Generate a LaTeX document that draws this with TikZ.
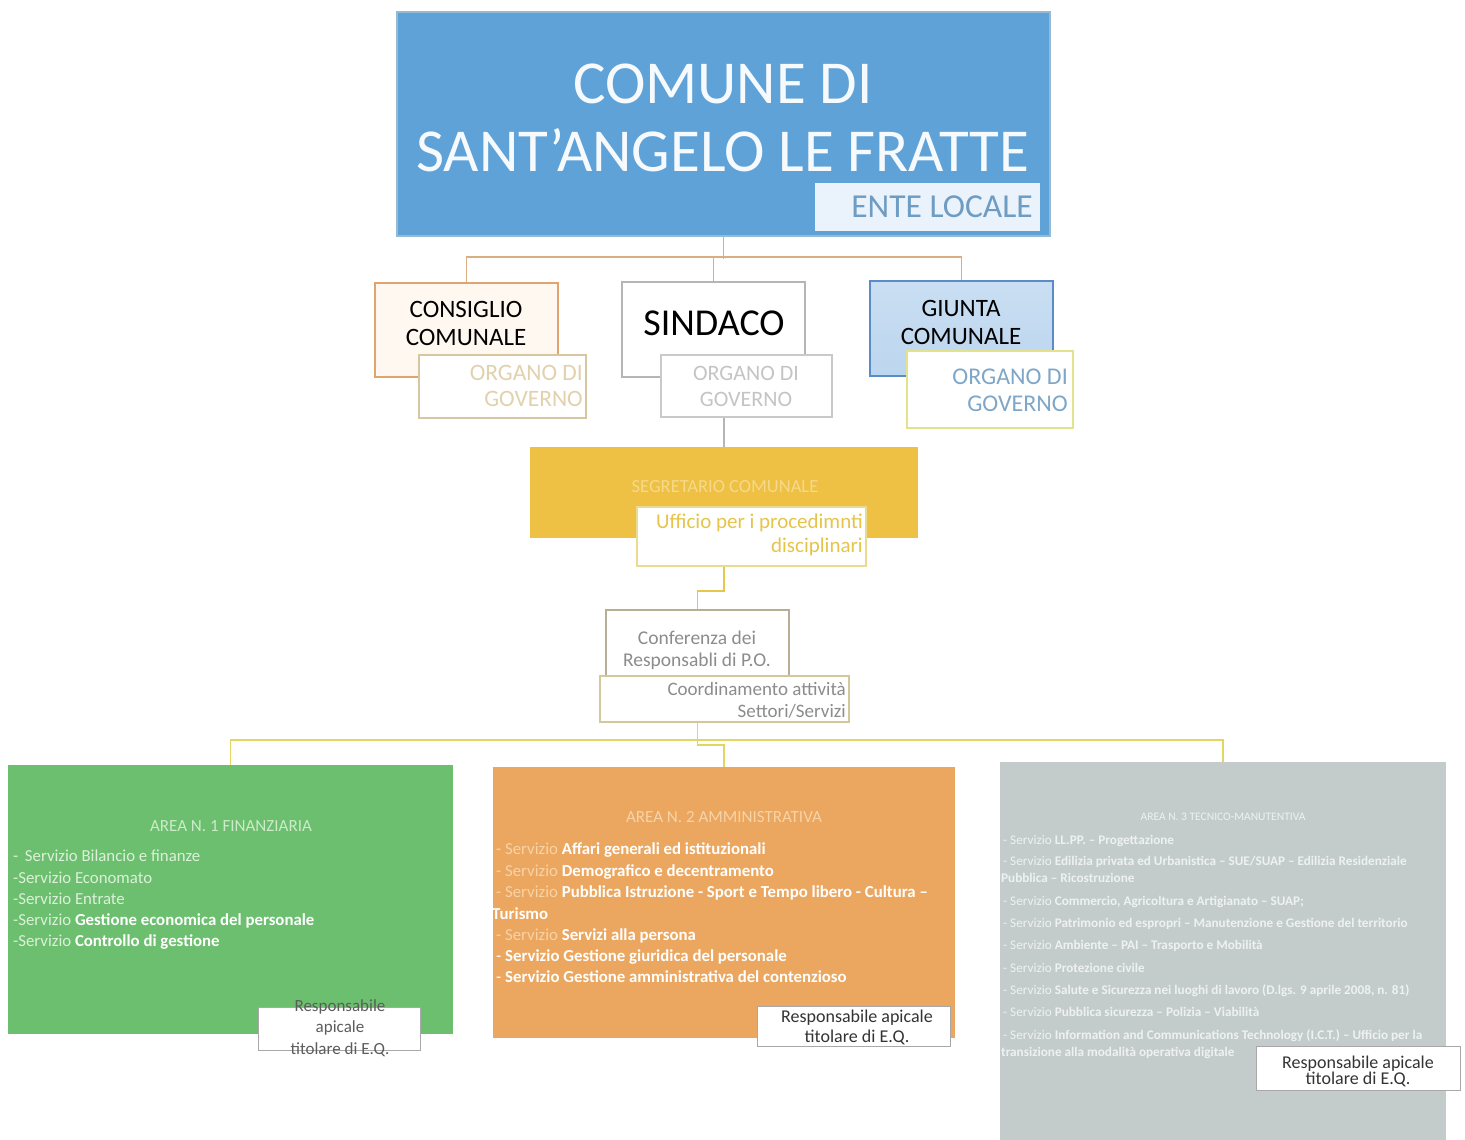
\documentclass[tikz,border=0pt]{standalone}
\usepackage{fontspec}
\setmainfont{Carlito}
\definecolor{topblue}{HTML}{5FA2D7}
\definecolor{entefill}{HTML}{EAF3FB}
\definecolor{entetext}{HTML}{6E9CC2}
\definecolor{consfill}{HTML}{FFF8F0}
\definecolor{consborder}{HTML}{E0A56E}
\definecolor{consorgb}{HTML}{D6C7A0}
\definecolor{consorgt}{HTML}{E1D2AD}
\definecolor{sindborder}{HTML}{B5B5B5}
\definecolor{sindorgb}{HTML}{C9C9C9}
\definecolor{sindorgt}{HTML}{C4C4C4}
\definecolor{giunfill}{HTML}{BCD6EF}
\definecolor{giunborder}{HTML}{5A8CC8}
\definecolor{giunorgb}{HTML}{E2E38C}
\definecolor{giunorgt}{HTML}{7EA6C8}
\definecolor{topconn}{HTML}{D9AE82}
\definecolor{segrfill}{HTML}{EEC043}
\definecolor{segrtext}{HTML}{F6D98A}
\definecolor{uffborder}{HTML}{E9DC90}
\definecolor{ufftext}{HTML}{E6C44A}
\definecolor{goldconn}{HTML}{E8C64C}
\definecolor{confborder}{HTML}{B8AE95}
\definecolor{conftext}{HTML}{8C8C8C}
\definecolor{coordborder}{HTML}{D3C79C}
\definecolor{lowconn}{HTML}{E2D660}
\definecolor{areagreen}{HTML}{6BBF6E}
\definecolor{greentitle}{HTML}{CDEBC9}
\definecolor{greensoft}{HTML}{DDF1DA}
\definecolor{areaorange}{HTML}{EBA75F}
\definecolor{orangetitle}{HTML}{F7D3A8}
\definecolor{orangesoft}{HTML}{F8D3A6}
\definecolor{areagrey}{HTML}{C4CCCB}
\definecolor{greytext}{HTML}{EEF1F1}
\definecolor{respborder}{HTML}{A8A8A8}
\definecolor{resptext}{HTML}{333333}
\begin{document}
\begin{tikzpicture}[x=1pt,y=-1pt,
  box/.style={draw, line width=1.6pt, inner sep=0pt},
  txt/.style={inner sep=0pt, align=center},
  conn/.style={line width=1.6pt},
  gitem/.style={inner sep=0pt, anchor=base west, text=white, font=\fontsize{16.8}{21}\selectfont},
  oitem/.style={inner sep=0pt, anchor=base west, text=white, font=\fontsize{16.8}{21}\selectfont},
  ritem/.style={inner sep=0pt, anchor=base west, text=greytext, font=\fontsize{13.2}{17}\selectfont},
  resp/.style={draw=respborder, line width=1pt, fill=white, inner sep=0pt}
]
\useasboundingbox (0,0) rectangle (1465,1140);

% ---------- top box ----------
\node[box, draw=topblue!85!black!60, fill=topblue, minimum width=653, minimum height=224] (top) at (723.5,124) {};
\node[txt, text=white!95!topblue, font=\fontsize{61}{68}\selectfont] (title) at (723,118) {COMUNE DI\\SANT'ANGELO LE FRATTE};
\node[inner sep=0pt, fill=entefill, minimum width=225, minimum height=48] (ente) at (927.5,207) {};
\node[inner sep=0pt, anchor=east, text=entetext, font=\fontsize{33.5}{36}\selectfont] (entet) at (1033,207) {ENTE LOCALE};

% ---------- governing bodies ----------
\node[box, draw=consborder, fill=consfill, minimum width=183, minimum height=94] (cons) at (466.5,330) {};
\node[txt, font=\fontsize{25}{28}\selectfont] (const) at (466,323) {CONSIGLIO\\COMUNALE};
\node[box, draw=consorgb, fill=white, line width=1.4pt, minimum width=167, minimum height=63] (corg) at (502.5,386.5) {};
\node[txt, align=right, anchor=east, text=consorgt, font=\fontsize{23.5}{26}\selectfont] (corgt) at (583,386) {ORGANO DI\\GOVERNO};

\node[box, draw=sindborder, fill=white, line width=1.4pt, minimum width=183, minimum height=95] (sind) at (713.5,329.5) {};
\node[txt, font=\fontsize{38}{40}\selectfont] (sindt) at (714,323) {SINDACO};
\node[box, draw=sindorgb, fill=white, line width=1.4pt, minimum width=171, minimum height=62] (sorg) at (746.5,386) {};
\node[txt, text=sindorgt, font=\fontsize{22}{26}\selectfont] (sorgt) at (746,386) {ORGANO DI\\GOVERNO};

\node[box, draw=giunborder, top color=giunfill!80!white, bottom color=giunfill, minimum width=183, minimum height=95] (giun) at (961.5,328.5) {};
\node[txt, font=\fontsize{25}{28}\selectfont] (giunt) at (961,322) {GIUNTA\\COMUNALE};
\node[box, draw=giunorgb, fill=white, line width=1.4pt, minimum width=166, minimum height=77] (gorg) at (990,389.5) {};
\node[txt, align=right, anchor=east, text=giunorgt, font=\fontsize{24}{27}\selectfont] (gorgt) at (1068,390) {ORGANO DI\\GOVERNO};

% connectors top
\draw[conn, topconn] (top.south) -- ++(0,22);
\draw[conn, topconn] (cons.north) -- ++(0,-25) -| (giun.north);
\draw[conn, topconn] (sind.north) -- ++(0,-25);

% ---------- secretary ----------
\node[inner sep=0pt, fill=segrfill, minimum width=388, minimum height=91] (segr) at (724,492.5) {};
\node[txt, text=segrtext, font=\fontsize{18.5}{20}\selectfont] (segrt) at (725,487) {SEGRETARIO COMUNALE};
\node[box, draw=uffborder, fill=white, line width=1.4pt, minimum width=229, minimum height=59] (uff) at (751.5,536.5) {};
\node[txt, align=right, anchor=east, text=ufftext, font=\fontsize{21}{24}\selectfont] (ufft) at (863,535) {Ufficio per i procedimnti\\disciplinari};
\draw[conn, sindborder] (sorg.south -| segr.north) -- (segr.north);

% ---------- conference ----------
\node[box, draw=confborder, fill=white, line width=1.4pt, minimum width=183, minimum height=66] (conf) at (697.5,643) {};
\node[txt, text=conftext, font=\fontsize{19.5}{22}\selectfont] (conft) at (697,650) {Conferenza dei\\Responsabli di P.O.};
\node[box, draw=coordborder, fill=white, line width=1.4pt, minimum width=249, minimum height=46] (coord) at (724.5,699) {};
\node[txt, align=right, anchor=east, text=conftext, font=\fontsize{19}{22}\selectfont] (coordt) at (846,700) {Coordinamento attività\\Settori/Servizi};
\draw[conn, goldconn] (uff.south -| segr.north) -- ++(0,24) -| (conf.north);

% ---------- areas ----------
\node[inner sep=0pt, fill=areagreen, minimum width=445, minimum height=269] (green) at (230.5,899.5) {};
\node[inner sep=0pt, fill=areaorange, minimum width=462, minimum height=271] (orange) at (724,902.5) {};
\node[inner sep=0pt, fill=areagrey, minimum width=446, minimum height=380] (grey) at (1223,952) {};

\draw[conn, lowconn] (green.north) -- ++(0,-25) -| (grey.north);
\draw[conn, lowconn] (coord.south -| conf.north) |- ([yshift=22pt]orange.north) -- (orange.north);

% green content
\node[txt, text=greentitle, font=\fontsize{17}{20}\selectfont] (gtitle) at (231,826) {AREA N. 1 FINANZIARIA};
\node[gitem] (g1) at (13,861) {\textcolor{greensoft}{- \,Servizio Bilancio e finanze}};
\node[gitem] (g2) at (13,883) {\textcolor{greensoft}{-Servizio Economato}};
\node[gitem] (g3) at (13,904) {\textcolor{greensoft}{-Servizio Entrate}};
\node[gitem] (g4) at (13,925) {\textcolor{greensoft}{-Servizio} \textbf{Gestione economica del personale}};
\node[gitem] (g5) at (13,946) {\textcolor{greensoft}{-Servizio} \textbf{Controllo di gestione}};
\node[resp, minimum width=162, minimum height=43] (gresp) at (339,1028.5) {};
\node[txt, text=resptext!80!white, font=\fontsize{17}{21.5}\selectfont] (grespt) at (340,1028) {Responsabile\\apicale\\titolare di E.Q.};

% orange content
\node[txt, text=orangetitle, font=\fontsize{17}{20}\selectfont] (otitle) at (724,817) {AREA N. 2 AMMINISTRATIVA};
\node[oitem] (o1) at (496,854) {\textcolor{orangesoft}{- Servizio} \textbf{Affari generali ed istituzionali}};
\node[oitem] (o2) at (496,876) {\textcolor{orangesoft}{- Servizio} \textbf{Demografico e decentramento}};
\node[oitem] (o3) at (496,897) {\textcolor{orangesoft}{- Servizio} \textbf{Pubblica Istruzione - Sport e Tempo libero - Cultura –}};
\node[oitem] (o3b) at (492,919) {\textbf{Turismo}};
\node[oitem] (o4) at (496,940) {\textcolor{orangesoft}{- Servizio} \textbf{Servizi alla persona}};
\node[oitem] (o5) at (496,961) {- \textbf{Servizio Gestione giuridica del personale}};
\node[oitem] (o6) at (496,982) {- \textbf{Servizio Gestione amministrativa del contenzioso}};
\node[resp, minimum width=193, minimum height=40] (oresp) at (853.5,1026) {};
\node[txt, text=resptext, font=\fontsize{18}{20}\selectfont] (orespt) at (857,1027) {Responsabile apicale\\titolare di E.Q.};

% grey content
\node[txt, text=greytext, font=\fontsize{11.5}{13}\selectfont] (rtitle) at (1223,817) {AREA N. 3 TECNICO-MANUTENTIVA};
\node[ritem] (r1) at (1003,844) {- Servizio \textbf{LL.PP. – Progettazione}};
\node[ritem] (r2) at (1003,865) {- Servizio \textbf{Edilizia privata ed Urbanistica – SUE/SUAP – Edilizia Residenziale}};
\node[ritem] (r2b) at (1001,882) {\textbf{Pubblica – Ricostruzione}};
\node[ritem] (r3) at (1003,905) {- Servizio \textbf{Commercio, Agricoltura e Artigianato – SUAP;}};
\node[ritem] (r4) at (1003,927) {- Servizio \textbf{Patrimonio ed espropri – Manutenzione e Gestione del territorio}};
\node[ritem] (r5) at (1003,949) {- Servizio \textbf{Ambiente – PAI – Trasporto e Mobilità}};
\node[ritem] (r6) at (1003,972) {- Servizio \textbf{Protezione civile}};
\node[ritem] (r7) at (1003,994) {- Servizio \textbf{Salute e Sicurezza nei luoghi di lavoro (D.lgs. 9 aprile 2008, n. 81)}};
\node[ritem] (r8) at (1003,1016) {- Servizio \textbf{Pubblica sicurezza – Polizia – Viabilità}};
\node[ritem] (r9) at (1003,1039) {- Servizio \textbf{Information and Communications Technology (I.C.T.) – Ufficio per la}};
\node[ritem] (r9b) at (1001,1056) {\textbf{transizione alla modalità operativa digitale}};
\node[resp, minimum width=204, minimum height=44] (rresp) at (1358,1068) {};
\node[txt, text=resptext, font=\fontsize{18}{16}\selectfont] (rrespt) at (1358,1071) {Responsabile apicale\\titolare di E.Q.};
\end{tikzpicture}
\end{document}
